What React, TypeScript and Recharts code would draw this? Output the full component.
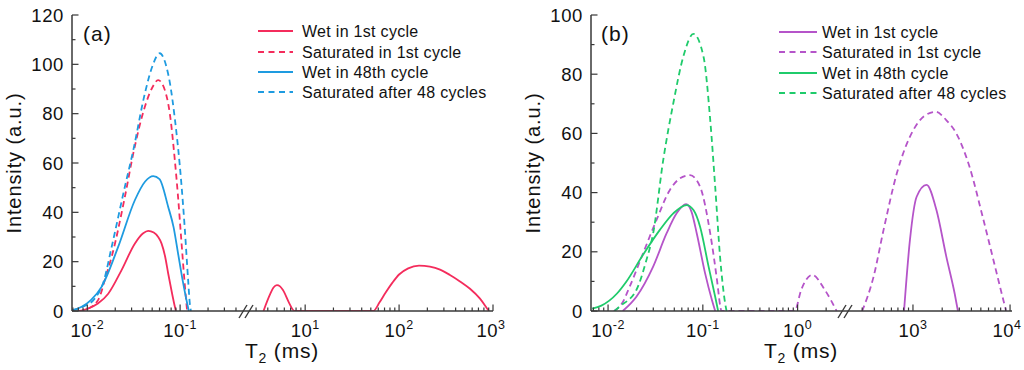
import React from 'react';
import { LineChart, Line, XAxis, YAxis } from 'recharts';

const FONT = '"Liberation Sans", Arial, Helvetica, sans-serif';
const AX = '#383838';
const RED = '#F42C5C';
const BLUE = '#1E9BE0';
const PURPLE = '#B554C9';
const GREEN = '#1FCB6B';

// ---------- Panel (a) data: T2 (ms) and intensity (a.u.) ----------
const aWet1T = [0.0085, 0.0102, 0.013, 0.0168, 0.0234, 0.0326, 0.04, 0.0453, 0.052, 0.058, 0.063, 0.069, 0.0743, 0.082, 0.0877, 0.09,
  3.6, 4.2, 4.6, 5.0, 5.4, 5.8, 6.8, 7.7,
  53, 62, 72, 85, 100, 125, 163, 213, 273, 348, 445, 569, 727, 885, 905];
const aWet1I = [0, 1.0, 3.0, 7.0, 16.6, 27.4, 31.5, 32.5, 31.8, 30, 27.4, 22, 15.3, 7, 1.8, 0,
  0, 6.5, 9.5, 10.5, 10.0, 8.5, 3, 0,
  0, 3.5, 7.5, 11.5, 14.8, 17.3, 18.4, 18.0, 16.8, 14.6, 12.0, 9.0, 5.0, 0.5, 0];

const aSat1T = [0.008, 0.01, 0.0131, 0.0161, 0.0183, 0.0254, 0.0313, 0.0417, 0.05, 0.058, 0.0684, 0.0775, 0.0877, 0.095, 0.103, 0.112, 0.116, 0.119];
const aSat1I = [0, 0.8, 4.5, 15, 22, 46.3, 63.9, 82.8, 90.5, 93.6, 89.6, 80, 61.2, 46.3, 28.8, 11.2, 4.5, 0];

const aWet48T = [0.0069, 0.0087, 0.011, 0.0143, 0.0215, 0.0326, 0.042, 0.0513, 0.06, 0.0743, 0.085, 0.095, 0.107, 0.117, 0.124];
const aWet48I = [0.3, 1.7, 4.5, 9.9, 26, 45, 52.5, 54.7, 53.5, 42.3, 34, 23.4, 12, 4.5, 0];

const aSat48T = [0.0069, 0.009, 0.012, 0.015, 0.0183, 0.0254, 0.0313, 0.0417, 0.05, 0.0604, 0.07, 0.078, 0.0877, 0.103, 0.112, 0.122, 0.128, 0.131];
const aSat48I = [0.3, 1.8, 5, 12, 26, 50.4, 65.2, 88.2, 99, 104.5, 100, 92, 78, 52, 34, 12.6, 2, 0];

// ---------- Panel (b) data ----------
const bWet1T = [0.0143, 0.0199, 0.0299, 0.0414, 0.0529, 0.0665, 0.076, 0.0863, 0.1057, 0.1247, 0.135,
  809, 931, 1091, 1380, 1745, 2208, 2685, 2905];
const bWet1I = [0, 4.8, 15, 26.2, 33, 36.1, 33.5, 26.2, 12.7, 3.7, 0,
  0, 24, 38.6, 42.6, 34.1, 18.3, 6, 0];

const bSat1T = [0.0115, 0.014, 0.0169, 0.0234, 0.0324, 0.0449, 0.0574, 0.0733, 0.0935, 0.1197, 0.141, 0.153, 0.157,
  0.93, 1.09, 1.43, 1.94, 2.58,
  300, 393, 498, 682, 1008, 1300, 1718, 2200, 2794, 3817, 5217, 7140, 8690, 9100];
const bSat1I = [0, 2.5, 8.2, 19.5, 30.7, 40.9, 44.8, 45.9, 42, 26.2, 10.5, 1.5, 0,
  0, 7.1, 12.2, 7.1, 0,
  0, 11.6, 27.4, 46.5, 61.1, 65.8, 67.3, 64.5, 60, 48.8, 31.9, 13.9, 2.6, 0];

const bWet48T = [0.0068, 0.0085, 0.0103, 0.0125, 0.0155, 0.0234, 0.0352, 0.0488, 0.0673, 0.08, 0.0935, 0.115, 0.135, 0.145];
const bWet48I = [0.8, 1.8, 3.5, 6, 9.8, 19, 27.4, 33, 35.8, 34, 28.5, 15, 4.8, 0];

const bSat48T = [0.0117, 0.0132, 0.0199, 0.0254, 0.0299, 0.0382, 0.0488, 0.0623, 0.0796, 0.1016, 0.1197, 0.135, 0.153, 0.172, 0.178];
const bSat48I = [0, 1.5, 7.1, 17.2, 26.2, 51, 70.2, 86, 93.6, 86, 64.5, 42, 17.2, 2.6, 0];

const seriesNames = ['Wet in 1st cycle', 'Saturated in 1st cycle', 'Wet in 48th cycle', 'Saturated after 48 cycles'];

type Pt = { t: number; v: number };
type Series = { name: string; t: number[]; v: number[]; color: string; dash: boolean };

const aSeries: Series[] = [
  { name: seriesNames[0], t: aWet1T, v: aWet1I, color: RED, dash: false },
  { name: seriesNames[1], t: aSat1T, v: aSat1I, color: RED, dash: true },
  { name: seriesNames[2], t: aWet48T, v: aWet48I, color: BLUE, dash: false },
  { name: seriesNames[3], t: aSat48T, v: aSat48I, color: BLUE, dash: true },
];
const bSeries: Series[] = [
  { name: seriesNames[0], t: bWet1T, v: bWet1I, color: PURPLE, dash: false },
  { name: seriesNames[1], t: bSat1T, v: bSat1I, color: PURPLE, dash: true },
  { name: seriesNames[2], t: bWet48T, v: bWet48I, color: GREEN, dash: false },
  { name: seriesNames[3], t: bSat48T, v: bSat48I, color: GREEN, dash: true },
];

const aYTicks = [0, 10, 20, 30, 40, 50, 60, 70, 80, 90, 100, 110, 120];
const bYTicks = [0, 10, 20, 30, 40, 50, 60, 70, 80, 90, 100];

const zip = (t: number[], v: number[]): Pt[] => t.map((x, i) => ({ t: x, v: v[i] }));

function logTicks(lo: number, hi: number, endsAtBreak: boolean, startsAtBreak: boolean): number[] {
  const out: number[] = [];
  for (let e = Math.floor(Math.log10(lo)) - 1; e <= Math.ceil(Math.log10(hi)); e++) {
    for (let k = 1; k <= 9; k++) {
      const v = k * Math.pow(10, e);
      const okLo = startsAtBreak ? v > lo * 1.08 : v >= lo * 0.9999;
      const okHi = endsAtBreak ? v < hi / 1.08 : v <= hi * 1.0001;
      if (okLo && okHi) out.push(v);
    }
  }
  return out;
}

const XTick = (p: any) => {
  const { x, y, payload, maxX } = p;
  const v = payload.value as number;
  const lg = Math.log10(v);
  const major = Math.abs(lg - Math.round(lg)) < 1e-6;
  const lx = Math.min(x, maxX - 15);
  return (
    <g>
      <line x1={x} x2={x} y1={y} y2={y - (major ? 6.5 : 3.5)} stroke={AX} strokeWidth={1.2} />
      {major && (
        <text x={lx} y={y + 26} textAnchor="middle" fontFamily={FONT} fontSize={18.5} fill="#111" style={{ letterSpacing: '0.5px' }}>
          <tspan>10</tspan>
          <tspan dy={-8} fontSize={12.5}>{String(Math.round(lg))}</tspan>
        </text>
      )}
    </g>
  );
};

const YTick = (p: any) => {
  const { x, y, payload } = p;
  const v = payload.value as number;
  const major = v % 20 === 0;
  return (
    <g>
      <line x1={x} x2={x + (major ? 6.5 : 3.5)} y1={y} y2={y} stroke={AX} strokeWidth={1.2} />
      {major && (
        <text x={x - 8} y={y + 6.5} textAnchor="end" fontFamily={FONT} fontSize={18.5} fill="#111" style={{ letterSpacing: '0.6px' }}>
          {v}
        </text>
      )}
    </g>
  );
};

const axisLine = { stroke: AX, strokeWidth: 1.5 };

type SegProps = {
  x0: number; w: number; yW: number; mr: number; dom: [number, number];
  yMax: number; yTicks: number[]; series: Series[]; first: boolean;
};

const Segment = ({ x0, w, yW, mr, dom, yMax, yTicks, series, first }: SegProps) => {
  const ticks = logTicks(dom[0], dom[1], first, !first);
  return (
    <div style={{ position: 'absolute', left: x0, top: 0 }}>
      <LineChart width={w} height={370} margin={{ top: 15, right: mr, bottom: 0, left: 0 }}>
        <XAxis xAxisId="b" dataKey="t" type="number" scale="log" domain={dom} allowDataOverflow
          ticks={ticks} interval={0} tickSize={0} tickMargin={0} tickLine={false}
          tick={(tp: any) => <XTick {...tp} maxX={w - 2} />} height={59} axisLine={axisLine} />
        <XAxis xAxisId="t" orientation="top" type="number" scale="log" domain={dom} allowDataOverflow
          height={0} tick={false} tickLine={false} axisLine={axisLine} />
        {first ? (
          <YAxis yAxisId="l" type="number" domain={[0, yMax]} allowDataOverflow ticks={yTicks} interval={0}
            width={yW} tickSize={0} tickMargin={0} tickLine={false}
            tick={(tp: any) => <YTick {...tp} />} axisLine={axisLine} />
        ) : (
          <YAxis yAxisId="l" type="number" domain={[0, yMax]} allowDataOverflow hide />
        )}
        {!first && (
          <YAxis yAxisId="r" orientation="right" type="number" domain={[0, 1]} width={0}
            tick={false} tickLine={false} axisLine={axisLine} />
        )}
        {series.map((s) => (
          <Line key={s.name} xAxisId="b" yAxisId="l" data={zip(s.t, s.v).filter((q) => q.t >= dom[0] / 1.02 && q.t <= dom[1] * 1.02)}
            dataKey="v" type="monotone" stroke={s.color} strokeWidth={1.8}
            strokeDasharray={s.dash ? '6 4' : undefined} dot={false} activeDot={false} isAnimationActive={false} />
        ))}
      </LineChart>
    </div>
  );
};

const Legend = ({ x1, x2, tx, ys, series }: { x1: number; x2: number; tx: number; ys: number[]; series: Series[] }) => (
  <g>
    {series.map((s, i) => (
      <g key={s.name}>
        <line x1={x1} x2={x2} y1={ys[i]} y2={ys[i]} stroke={s.color} strokeWidth={1.8} strokeDasharray={s.dash ? '6 4.5' : undefined} />
        <text x={tx} y={ys[i] + 5.5} fontFamily={FONT} fontSize={16} fill="#111" style={{ letterSpacing: '0.3px' }}>{s.name}</text>
      </g>
    ))}
  </g>
);

const BreakMark = ({ x, y }: { x: number; y: number }) => (
  <g stroke={AX} strokeWidth={1.4}>
    <line x1={x - 7} y1={y + 7} x2={x + 1} y2={y - 6} />
    <line x1={x - 1} y1={y + 7} x2={x + 7} y2={y - 6} />
  </g>
);

const XTitle = ({ x }: { x: number }) => (
  <text x={x} y={358} textAnchor="middle" fontFamily={FONT} fontSize={21} fill="#111" style={{ letterSpacing: '0.8px' }}>
    T<tspan dy={5} fontSize={14}>2</tspan><tspan dy={-5}> (ms)</tspan>
  </text>
);

const YTitle = ({ x }: { x: number }) => (
  <text transform={`translate(${x},163) rotate(-90)`} textAnchor="middle" fontFamily={FONT} fontSize={20} fill="#111" style={{ letterSpacing: '0.9px' }}>
    Intensity (a.u.)
  </text>
);

export default function App() {
  return (
    <div style={{ position: 'absolute', left: 0, top: 0, width: 1024, height: 370, background: '#fff', overflow: 'hidden' }}>
      {/* Panel (a) */}
      <Segment x0={0} w={246} yW={72} mr={0} dom={[Math.pow(10, -2.165), Math.pow(10, -0.29)]} yMax={120} yTicks={aYTicks} series={aSeries} first />
      <Segment x0={246} w={262} yW={0} mr={15} dom={[Math.pow(10, 0.37), 1000]} yMax={120} yTicks={aYTicks} series={aSeries} first={false} />
      {/* Panel (b) */}
      <Segment x0={512} w={333} yW={79} mr={0} dom={[Math.pow(10, -2.18), Math.pow(10, 0.5)]} yMax={100} yTicks={bYTicks} series={bSeries} first />
      <Segment x0={845} w={179} yW={0} mr={12} dom={[Math.pow(10, 2.3), Math.pow(10, 4.02)]} yMax={100} yTicks={bYTicks} series={bSeries} first={false} />
      <svg width={1024} height={370} style={{ position: 'absolute', left: 0, top: 0, pointerEvents: 'none' }}>
        <text x={83} y={41} fontFamily={FONT} fontSize={21} fill="#111" style={{ letterSpacing: '1px' }}>(a)</text>
        <text x={601} y={41} fontFamily={FONT} fontSize={21} fill="#111" style={{ letterSpacing: '1px' }}>(b)</text>
        <YTitle x={21} />
        <YTitle x={540} />
        <XTitle x={282} />
        <XTitle x={801} />
        <BreakMark x={246} y={311} />
        <BreakMark x={845} y={311} />
        <Legend x1={258} x2={293} tx={302} ys={[31, 52, 72, 92]} series={aSeries} />
        <Legend x1={779} x2={817} tx={822} ys={[32, 52, 73, 93]} series={bSeries} />
      </svg>
    </div>
  );
}
